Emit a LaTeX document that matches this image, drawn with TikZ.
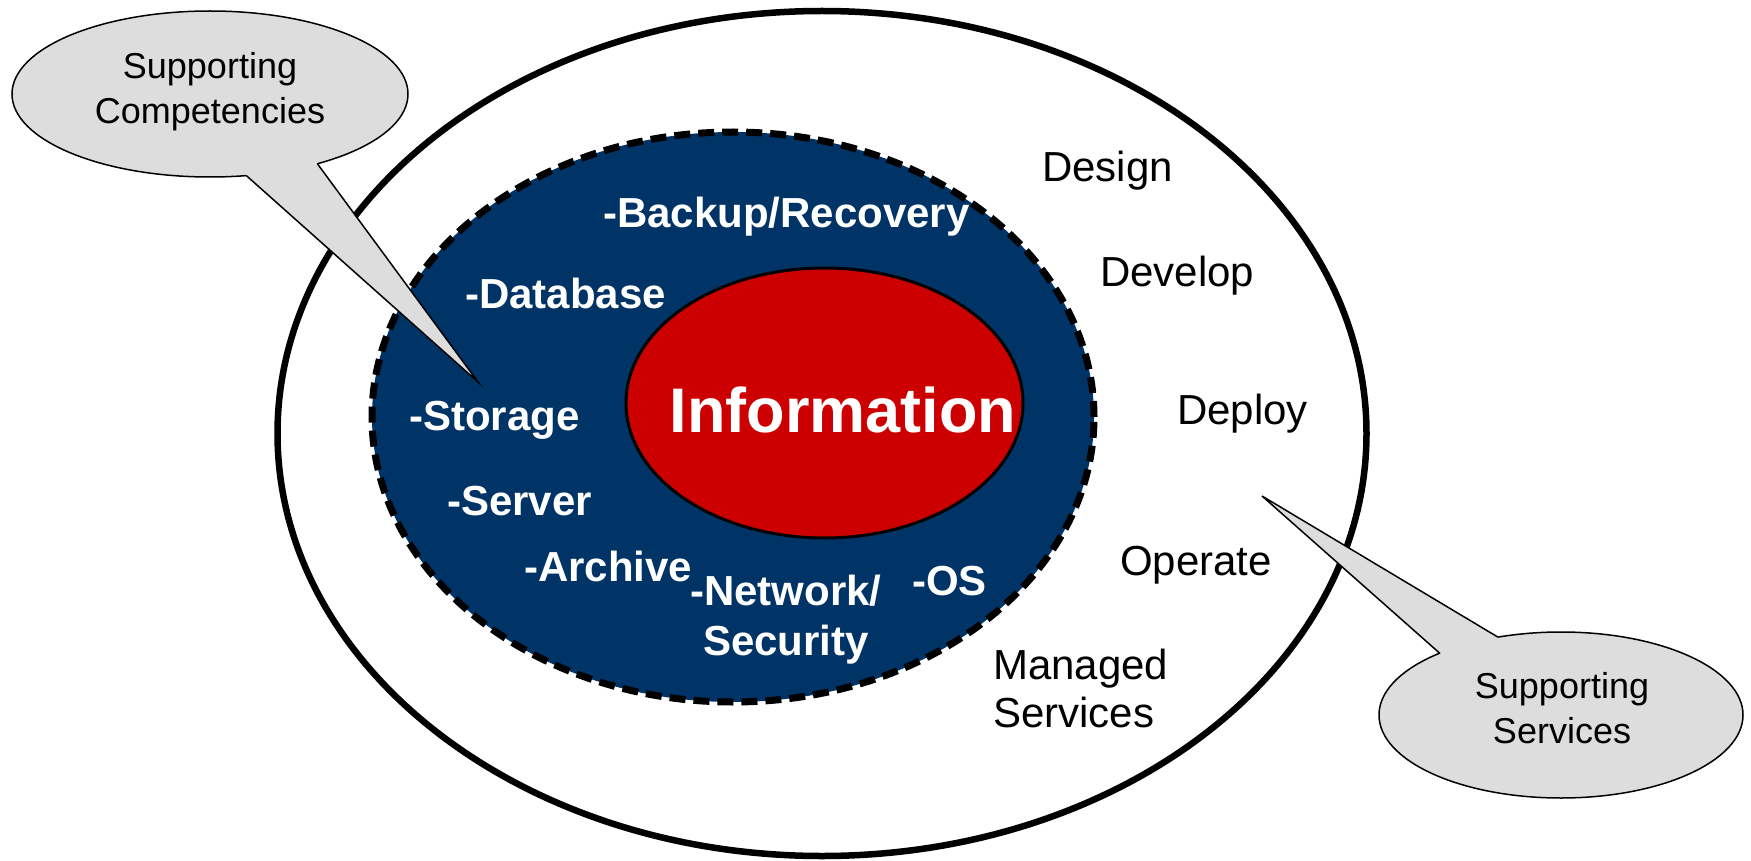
\documentclass[tikz,border=0pt]{standalone}
\usepackage{fontspec}
\setmainfont{Liberation Sans}
\usetikzlibrary{shapes.geometric}
\definecolor{navy}{HTML}{003366}
\definecolor{infored}{HTML}{CC0000}
\definecolor{callgray}{HTML}{DDDDDD}
\begin{document}
\begin{tikzpicture}[x=1pt,y=-1pt,
  blk/.style={font=\fontsize{42}{48}\selectfont, text=black, inner sep=0, anchor=base west},
  wht/.style={font=\fontsize{42}{48}\selectfont\bfseries, text=white, inner sep=0, anchor=base west},
  calltext/.style={font=\fontsize{36}{42}\selectfont, text=black, inner sep=0, anchor=base},
  bubble/.style={ellipse, draw=black, line width=1.5pt, fill=callgray, inner sep=0, outer sep=0},
  ptrfill/.style={fill=callgray},
  ptrline/.style={draw=black, line width=1.5pt, line join=miter}]
\useasboundingbox (0,0) rectangle (1751,861);

% rings
\node[ellipse, draw=black, line width=6.5pt, fill=white, inner sep=0, outer sep=0,
      minimum width=1089, minimum height=845] (outer) at (822,433.5) {};
\node[ellipse, fill=navy, inner sep=0, outer sep=0,
      minimum width=722, minimum height=570] (mid) at (733,417) {};
\draw[draw=black, line width=7pt, dash pattern=on 16pt off 8pt]
      (mid.center) ellipse [x radius=361pt, y radius=285pt];
\node[ellipse, fill=infored, draw=black, line width=3pt, inner sep=0, outer sep=0,
      minimum width=397, minimum height=270] (core) at (824.5,403) {};

% core label
\node[font=\fontsize{63}{70}\selectfont\bfseries, text=white, inner sep=0, anchor=base]
      (info) at (843,432) {Information};

% competencies
\node[wht] (backup) at (603,228) {-Backup/Recovery};
\node[wht] (db) at (465,308) {-Database};
\node[wht] (stor) at (409,430) {-Storage};
\node[wht] (serv) at (447,515) {-Server};
\node[wht] (arch) at (524,581) {-Archive};
\node[wht] (net) at (690,605) {-Network/};
\node[wht] (sec) at (703,655) {Security};
\node[wht] (os) at (912,595) {-OS};

% services
\node[blk] (design) at (1042,182) {Design};
\node[blk] (develop) at (1100,287) {Develop};
\node[blk] (deploy) at (1177,424) {Deploy};
\node[blk] (operate) at (1120,575) {Operate};
\node[blk] (managed) at (993,679) {Managed};
\node[blk] (services) at (993,727) {Services};

% callout: Supporting Competencies
\node[bubble, minimum width=396, minimum height=166] (c1) at (210,94) {};
\coordinate (tip1) at (478,382);
\fill[ptrfill] (c1.-66.3) -- (tip1) -- (c1.-33.4) -- (c1.center) -- cycle;
\draw[ptrline] (c1.-66.3) -- (tip1) -- (c1.-33.4);
\node[calltext] (c1a) at (210,79) {Supporting};
\node[calltext] (c1b) at (210,124) {Competencies};

% callout: Supporting Services
\node[bubble, minimum width=364, minimum height=166] (c2) at (1561,715) {};
\coordinate (tip2) at (1262,496);
\fill[ptrfill] (c2.153.3) -- (tip2) -- (c2.129.8) -- (c2.center) -- cycle;
\draw[ptrline] (c2.153.3) -- (tip2) -- (c2.129.8);
\node[calltext] (c2a) at (1562,698) {Supporting};
\node[calltext] (c2b) at (1562,743) {Services};
\end{tikzpicture}
\end{document}
